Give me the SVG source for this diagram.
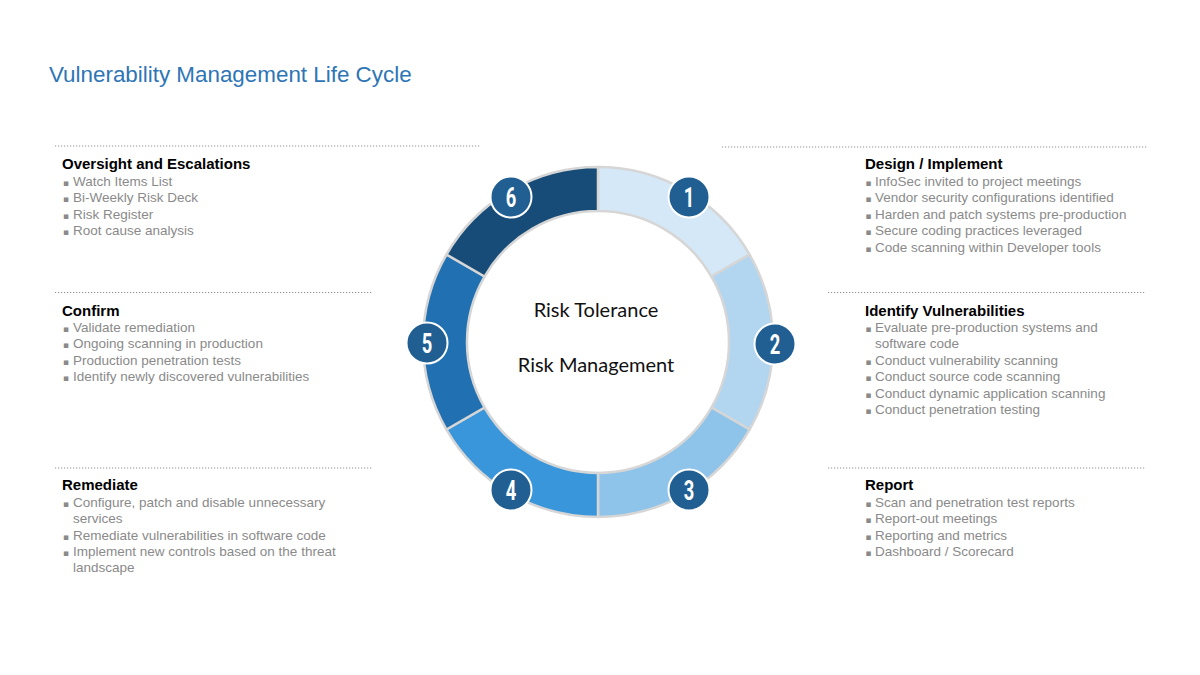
<svg xmlns="http://www.w3.org/2000/svg" width="1200" height="675" viewBox="0 0 1200 675">
<style>
.title{font-family:"Liberation Sans",Arial,sans-serif;font-size:22.4px;fill:#2e75b6}
.hd{font-family:"Liberation Sans",Arial,sans-serif;font-size:15px;font-weight:bold;fill:#000}
.bl{font-family:"Liberation Sans",Arial,sans-serif;font-size:13.5px;fill:#8a8a8a}
.bu{font-family:"DejaVu Sans",sans-serif;font-size:9px;fill:#8a8a8a}
.dot{stroke:#8f8f8f;stroke-width:1.2;stroke-dasharray:1.2 1.8;fill:none}
.seg{stroke:#d6d6d6;stroke-width:2.5;stroke-linejoin:round}
.num{fill:#215f93;stroke:#ffffff;stroke-width:2}
.nt{font-family:Roboto,"Liberation Sans",sans-serif;font-weight:bold;font-size:27px;fill:#ffffff;text-anchor:middle}
.ct{font-family:Lato,"Open Sans",sans-serif;font-size:20px;fill:#111;text-anchor:middle}
</style>
<rect width="1200" height="675" fill="#ffffff"/>
<text class="title" x="49" y="82">Vulnerability Management Life Cycle</text>

<g id="dividers">
<line class="dot" x1="55" y1="146" x2="480" y2="146"/>
<line class="dot" x1="55" y1="292.5" x2="372" y2="292.5"/>
<line class="dot" x1="55" y1="468" x2="372" y2="468"/>
<line class="dot" x1="722" y1="147" x2="1147" y2="147"/>
<line class="dot" x1="828" y1="292.5" x2="1145" y2="292.5"/>
<line class="dot" x1="828" y1="468" x2="1145" y2="468"/>
</g>

<g id="ring">
<path id="seg1" class="seg" fill="#d5e8f7" d="M598,167 A175,175 0 0 1 749.55,254.5 L711.45,276.5 A131,131 0 0 0 598,211 Z"/>
<path id="seg2" class="seg" fill="#b2d5f0" d="M749.55,254.5 A175,175 0 0 1 749.55,429.5 L711.45,407.5 A131,131 0 0 0 711.45,276.5 Z"/>
<path id="seg3" class="seg" fill="#8ec3ea" d="M749.55,429.5 A175,175 0 0 1 598,517 L598,473 A131,131 0 0 0 711.45,407.5 Z"/>
<path id="seg4" class="seg" fill="#3a96da" d="M598,517 A175,175 0 0 1 446.45,429.5 L484.55,407.5 A131,131 0 0 0 598,473 Z"/>
<path id="seg5" class="seg" fill="#2171b2" d="M446.45,429.5 A175,175 0 0 1 446.45,254.5 L484.55,276.5 A131,131 0 0 0 484.55,407.5 Z"/>
<path id="seg6" class="seg" fill="#174c78" d="M446.45,254.5 A175,175 0 0 1 598,167 L598,211 A131,131 0 0 0 484.55,276.5 Z"/>
</g>

<g id="center">
<text class="ct" x="596" y="317">Risk Tolerance</text>
<text class="ct" x="596" y="372">Risk Management</text>
</g>

<g id="n1"><circle class="num" cx="689" cy="197" r="20.5"/><text class="nt" transform="translate(689,207) scale(0.68,1)">1</text></g>
<g id="n2"><circle class="num" cx="775" cy="344" r="20.5"/><text class="nt" transform="translate(775,354) scale(0.68,1)">2</text></g>
<g id="n3"><circle class="num" cx="689" cy="490" r="20.5"/><text class="nt" transform="translate(689,500) scale(0.68,1)">3</text></g>
<g id="n4"><circle class="num" cx="511" cy="490" r="20.5"/><text class="nt" transform="translate(511,500) scale(0.68,1)">4</text></g>
<g id="n5"><circle class="num" cx="427" cy="343" r="20.5"/><text class="nt" transform="translate(427,353) scale(0.68,1)">5</text></g>
<g id="n6"><circle class="num" cx="511" cy="197" r="20.5"/><text class="nt" transform="translate(511,207) scale(0.68,1)">6</text></g>

<g id="oversight">
<text class="hd" x="62" y="169">Oversight and Escalations</text>
<text class="bl" y="185.5"><tspan class="bu" x="63">▪</tspan><tspan x="73">Watch Items List</tspan></text>
<text class="bl" y="202"><tspan class="bu" x="63">▪</tspan><tspan x="73">Bi-Weekly Risk Deck</tspan></text>
<text class="bl" y="218.5"><tspan class="bu" x="63">▪</tspan><tspan x="73">Risk Register</tspan></text>
<text class="bl" y="235"><tspan class="bu" x="63">▪</tspan><tspan x="73">Root cause analysis</tspan></text>
</g>

<g id="confirm">
<text class="hd" x="62" y="315.5">Confirm</text>
<text class="bl" y="331.5"><tspan class="bu" x="63">▪</tspan><tspan x="73">Validate remediation</tspan></text>
<text class="bl" y="348"><tspan class="bu" x="63">▪</tspan><tspan x="73">Ongoing scanning in production</tspan></text>
<text class="bl" y="364.5"><tspan class="bu" x="63">▪</tspan><tspan x="73">Production penetration tests</tspan></text>
<text class="bl" y="381"><tspan class="bu" x="63">▪</tspan><tspan x="73">Identify newly discovered vulnerabilities</tspan></text>
</g>

<g id="remediate">
<text class="hd" x="62" y="490">Remediate</text>
<text class="bl" y="506.5"><tspan class="bu" x="63">▪</tspan><tspan x="73">Configure, patch and disable unnecessary</tspan></text>
<text class="bl" x="73" y="523">services</text>
<text class="bl" y="539.5"><tspan class="bu" x="63">▪</tspan><tspan x="73">Remediate vulnerabilities in software code</tspan></text>
<text class="bl" y="556"><tspan class="bu" x="63">▪</tspan><tspan x="73">Implement new controls based on the threat</tspan></text>
<text class="bl" x="73" y="572">landscape</text>
</g>

<g id="design">
<text class="hd" x="865" y="169">Design / Implement</text>
<text class="bl" y="185.5"><tspan class="bu" x="865.5">▪</tspan><tspan x="875">InfoSec invited to project meetings</tspan></text>
<text class="bl" y="202"><tspan class="bu" x="865.5">▪</tspan><tspan x="875">Vendor security configurations identified</tspan></text>
<text class="bl" y="218.5"><tspan class="bu" x="865.5">▪</tspan><tspan x="875">Harden and patch systems pre-production</tspan></text>
<text class="bl" y="235"><tspan class="bu" x="865.5">▪</tspan><tspan x="875">Secure coding practices leveraged</tspan></text>
<text class="bl" y="251.5"><tspan class="bu" x="865.5">▪</tspan><tspan x="875">Code scanning within Developer tools</tspan></text>
</g>

<g id="identify">
<text class="hd" x="865" y="315.5">Identify Vulnerabilities</text>
<text class="bl" y="331.5"><tspan class="bu" x="865.5">▪</tspan><tspan x="875">Evaluate pre-production systems and</tspan></text>
<text class="bl" x="875" y="348">software code</text>
<text class="bl" y="364.5"><tspan class="bu" x="865.5">▪</tspan><tspan x="875">Conduct vulnerability scanning</tspan></text>
<text class="bl" y="381"><tspan class="bu" x="865.5">▪</tspan><tspan x="875">Conduct source code scanning</tspan></text>
<text class="bl" y="397.5"><tspan class="bu" x="865.5">▪</tspan><tspan x="875">Conduct dynamic application scanning</tspan></text>
<text class="bl" y="414"><tspan class="bu" x="865.5">▪</tspan><tspan x="875">Conduct penetration testing</tspan></text>
</g>

<g id="report">
<text class="hd" x="865" y="490">Report</text>
<text class="bl" y="506.5"><tspan class="bu" x="865.5">▪</tspan><tspan x="875">Scan and penetration test reports</tspan></text>
<text class="bl" y="523"><tspan class="bu" x="865.5">▪</tspan><tspan x="875">Report-out meetings</tspan></text>
<text class="bl" y="539.5"><tspan class="bu" x="865.5">▪</tspan><tspan x="875">Reporting and metrics</tspan></text>
<text class="bl" y="556"><tspan class="bu" x="865.5">▪</tspan><tspan x="875">Dashboard / Scorecard</tspan></text>
</g>
</svg>
